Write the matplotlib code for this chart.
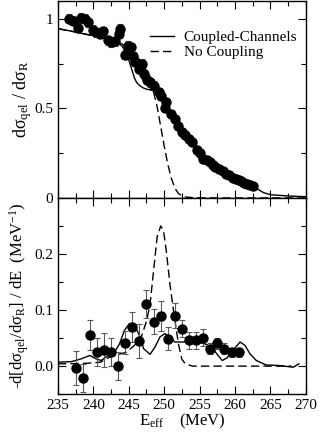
import matplotlib
matplotlib.use("Agg")
import matplotlib.pyplot as plt
from matplotlib.ticker import MultipleLocator, FixedLocator

plt.rcParams['font.family'] = ['Liberation Serif', 'DejaVu Serif']
plt.rcParams['mathtext.fontset'] = 'custom'
plt.rcParams['mathtext.rm'] = 'Liberation Serif'
plt.rcParams['mathtext.it'] = 'Liberation Serif:italic'
plt.rcParams['font.size'] = 11

# --- top panel: quasi-elastic / Rutherford ratio ---
e_top = [236.6, 237.1, 237.8, 238.3, 238.8, 239.3, 239.9, 240.4, 240.9, 241.4,
         242.1, 242.5, 243.0, 243.6, 243.7, 244.4, 244.9, 245.3, 245.6, 245.9,
         246.5, 246.8, 247.1, 247.6, 248.0, 248.5, 249.2, 249.5, 250.1, 250.3,
         251.0, 251.5, 252.0, 252.5, 253.0, 253.5, 253.9, 254.6, 255.0, 255.5,
         256.0, 256.4, 256.9, 257.2, 257.8, 258.3, 258.7, 259.2, 259.7, 260.1,
         260.5, 260.9, 261.3, 261.7, 262.1, 262.5]
r_top = [1.00, 0.99, 0.95, 1.005, 1.00, 0.98, 0.94, 0.925, 0.915, 0.93,
         0.88, 0.87, 0.875, 0.915, 0.945, 0.80, 0.85, 0.84, 0.79, 0.76,
         0.72, 0.75, 0.69, 0.66, 0.645, 0.625, 0.59, 0.57, 0.50, 0.535,
         0.47, 0.44, 0.40, 0.37, 0.35, 0.33, 0.31, 0.27, 0.25, 0.22,
         0.21, 0.20, 0.185, 0.17, 0.16, 0.148, 0.135, 0.128, 0.112, 0.105,
         0.098, 0.092, 0.085, 0.08, 0.075, 0.067]
err_top = [0.025] * 28 + [0.012] * 28

cc_e = [235, 237, 240, 243, 244, 244.5, 245, 245.4, 245.8, 246.1, 246.6, 247, 247.5,
        248.4, 249.1, 250, 251, 252, 253, 254, 255, 256, 257, 258, 259, 260, 261,
        262, 263, 264, 265, 266, 268, 270]
cc_r = [0.945, 0.93, 0.905, 0.876, 0.85, 0.82, 0.77, 0.72, 0.67, 0.645, 0.625, 0.615, 0.607,
        0.60, 0.58, 0.53, 0.475, 0.41, 0.35, 0.295, 0.245, 0.205, 0.17, 0.145, 0.12, 0.10, 0.085,
        0.07, 0.054, 0.03, 0.018, 0.015, 0.01, 0.007]

nc_e = [235, 237, 240, 243, 244, 245, 246, 247, 247.5, 248, 248.5, 249, 249.5, 250,
        250.5, 251, 251.5, 252, 252.5, 253, 254, 256, 270]
nc_r = [0.945, 0.93, 0.905, 0.875, 0.86, 0.835, 0.80, 0.745, 0.71, 0.655, 0.59, 0.51, 0.40,
        0.29, 0.19, 0.11, 0.055, 0.025, 0.012, 0.005, 0.002, 0.0, 0.0]

# --- bottom panel: barrier distribution ---
e_bot = [237.5, 238.5, 239.5, 240.5, 241.5, 242.5, 243.5, 244.5, 245.5, 246.5, 247.5,
         248.5, 249.5, 250.5, 251.5, 252.5, 253.5, 254.5, 255.5, 256.5, 257.5, 258.5,
         259.5, 260.5]
d_bot = [-0.003, -0.022, 0.055, 0.026, 0.029, 0.026, 0.001, 0.042, 0.070, 0.045, 0.111,
         0.079, 0.089, 0.049, 0.090, 0.067, 0.046, 0.046, 0.051, 0.031, 0.041, 0.031,
         0.025, 0.025]
err_bot = [0.03, 0.025, 0.027, 0.025, 0.03, 0.025, 0.025, 0.02, 0.027, 0.03, 0.025,
           0.022, 0.027, 0.02, 0.022, 0.015, 0.015, 0.015, 0.015, 0.01, 0.01, 0.01,
           0.008, 0.008]

ccd_e = [235, 236.9, 238.3, 239.5, 240.4, 241.1, 242.1, 243, 243.7, 244.4, 245.1, 245.8,
         246.5, 247.1, 248, 248.7, 249.4, 250.1, 250.8, 251.5, 252.7, 253.6, 254.6, 255.7,
         256.7, 257.6, 258.2, 258.9, 259.5, 260.7, 261.4, 262.1, 263, 264.4, 266.3, 268.2, 269]
ccd_d = [0.007, 0.008, 0.013, 0.019, 0.013, 0.01, 0.019, 0.025, 0.04, 0.064, 0.076, 0.073,
         0.055, 0.031, 0.021, 0.034, 0.052, 0.058, 0.052, 0.043, 0.043, 0.045, 0.043, 0.04,
         0.034, 0.019, 0.01, 0.015, 0.025, 0.043, 0.037, 0.022, 0.01, 0.002, 0.001, -0.002, 0.004]

ncd_e = [235, 239, 241, 242.3, 244.7, 246.6, 247.5, 248, 248.5, 249, 249.5, 249.9, 250.3,
         250.8, 251.3, 252, 252.5, 253, 254, 268]
ncd_d = [0.004, 0.005, 0.007, 0.016, 0.025, 0.046, 0.08, 0.11, 0.17, 0.23, 0.25, 0.242, 0.205,
         0.147, 0.10, 0.04, 0.012, 0.004, 0.0, 0.0]

fig = plt.figure(figsize=(3.2, 4.36), dpi=100)
ax1 = fig.add_axes([0.181, 0.546, 0.775, 0.452])
ax2 = fig.add_axes([0.181, 0.096, 0.775, 0.450], sharex=ax1)

ax1.plot(cc_e, cc_r, 'k-', lw=1.0, label='Coupled-Channels')
ax1.plot(nc_e, nc_r, 'k--', lw=1.0, dashes=(6, 3), label='No Coupling')
ax1.errorbar(e_top, r_top, yerr=err_top, fmt='o', color='k', ms=6.5,
             ecolor='0.35', elinewidth=0.8, capsize=2.5, capthick=0.8)
ax1.legend(loc='upper right', bbox_to_anchor=(1.02, 0.92), frameon=False, fontsize=11,
           handlelength=1.6, handletextpad=0.6, labelspacing=0.1)

ax2.plot(ccd_e, ccd_d, 'k-', lw=1.0)
ax2.plot(ncd_e, ncd_d, 'k--', lw=1.0, dashes=(6, 3))
ax2.errorbar(e_bot, d_bot, yerr=err_bot, fmt='o', color='k', ms=6.5,
             ecolor='0.35', elinewidth=0.8, capsize=2.5, capthick=0.8)

ax1.set_xlim(235, 270)
ax1.set_ylim(0, 1.1)
ax2.set_ylim(-0.05, 0.3)

ax1.xaxis.set_major_locator(MultipleLocator(5))
ax1.xaxis.set_minor_locator(MultipleLocator(2.5))
ax1.yaxis.set_major_locator(FixedLocator([0, 0.5, 1]))
ax1.yaxis.set_minor_locator(MultipleLocator(0.25))
ax1.set_yticklabels(['0', '0.5', '1'])
ax2.yaxis.set_major_locator(FixedLocator([0, 0.1, 0.2]))
ax2.yaxis.set_minor_locator(MultipleLocator(0.05))

for ax in (ax1, ax2):
    ax.tick_params(which='both', direction='in', top=True, right=True, labelsize=11)
    ax.tick_params(which='major', length=6, width=0.8)
    ax.tick_params(which='minor', length=3.5, width=0.8)
    for s in ax.spines.values():
        s.set_linewidth(1.0)
ax1.tick_params(labelbottom=False)

ax1.set_ylabel('dσ$_\\mathrm{qel}$ / dσ$_\\mathrm{R}$', fontsize=13, labelpad=0)
ax2.set_ylabel('-d[dσ$_\\mathrm{qel}$/dσ$_\\mathrm{R}$] / dE  (MeV$^{-1}$)', fontsize=12, labelpad=2)
ax2.set_xlabel('E$_\\mathrm{eff}$    (MeV)', fontsize=12, labelpad=0)

fig.savefig('out.png', dpi=100)
